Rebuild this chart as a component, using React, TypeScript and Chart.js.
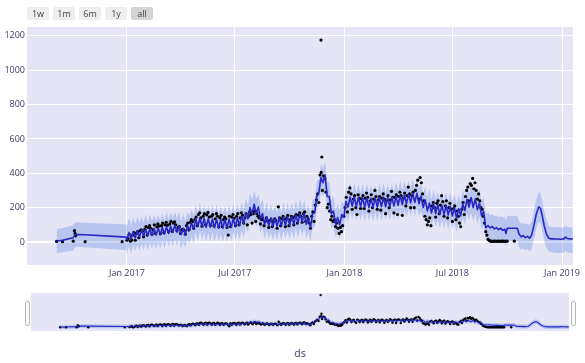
import React, { useEffect, useRef } from "react";
import { Chart, registerables } from "chart.js";

Chart.register(...registerables);

// ---------- axis / category data ----------
const BASE_DATE = "2017-01-01";
const X_TICK_DATES = ["2017-01-01", "2017-07-01", "2018-01-01", "2018-07-01", "2019-01-01"];
const X_TICK_LABELS = ["Jan 2017", "Jul 2017", "Jan 2018", "Jul 2018", "Jan 2019"];
const X_MIN_DAY = -167.6;
const X_MAX_DAY = 748.4;
const Y_TICKS = [0, 200, 400, 600, 800, 1000, 1200];
const Y_MIN = -134;
const Y_MAX = 1252;
const RANGE_BUTTONS = ["1w", "1m", "6m", "1y", "all"];
const ACTIVE_BUTTON = "all";
const X_TITLE = "ds";

// ---------- actual observations (days since 2017-01-01) ----------
const SPARSE_OBS_DAY = [-118, -108, -90, -88, -87, -86, -70, -8, 0, 325.6, 327, 650];
const SPARSE_OBS_Y = [3, 2, 5, 66, 50, 36, 2, 2, 10, 1176, 495, 5];

const OBS_START_DAY = 2;
const OBS_STEP_DAYS = 2;
const OBS_Y = [
  20, 45, 5, 12, 40, 55, 10, 50, 60, 25, 65, 70, 62, 30,
  75, 90, 40, 85, 95, 80, 45, 70, 100, 50, 88, 105, 92, 48,
  95, 110, 55, 100, 115, 98, 60, 105, 120, 62, 110, 118, 100, 65,
  85, 90, 50, 70, 75, 68, 45, 95, 110, 70, 115, 130, 118, 80,
  130, 145, 95, 160, 170, 140, 92, 150, 165, 100, 158, 172, 145, 98,
  150, 160, 95, 135, 165, 150, 88, 140, 155, 90, 130, 145, 135, 85,
  40, 150, 90, 145, 160, 138, 95, 150, 165, 100, 140, 170, 155, 110,
  140, 165, 100, 150, 175, 160, 110, 165, 180, 120, 165, 150, 140, 105,
  130, 135, 95, 120, 140, 125, 85, 125, 130, 90, 118, 135, 125, 80,
  205, 140, 95, 135, 150, 130, 90, 140, 155, 95, 130, 150, 140, 100,
  150, 160, 110, 155, 170, 150, 115, 165, 175, 120, 150, 135, 110, 80,
  150, 175, 120, 215, 245, 280, 230, 390, 405, 300, 385, 370, 290, 200,
  220, 180, 130, 150, 120, 130, 90, 110, 80, 50, 85, 60, 95, 150,
  200, 260, 175, 290, 315, 280, 190, 250, 270, 200, 160, 275, 255, 195,
  250, 270, 195, 255, 285, 260, 180, 240, 275, 200, 250, 300, 265, 190,
  245, 265, 185, 255, 280, 250, 165, 240, 270, 200, 245, 295, 260, 170,
  260, 275, 160, 265, 290, 270, 155, 255, 285, 210, 270, 320, 280, 200,
  270, 290, 200, 300, 330, 360, 250, 375, 345, 280, 240, 150, 130, 100,
  120, 140, 95, 210, 230, 200, 145, 225, 240, 165, 215, 270, 235, 150,
  210, 240, 140, 200, 225, 190, 120, 195, 210, 130, 180, 150, 110, 90,
  190, 230, 160, 265, 300, 320, 240, 340, 330, 370, 310, 345, 300, 250,
  280, 240, 200, 190, 150, 110, 60, 40, 15, 8, 5, 5, 4, 5,
  5, 4, 5, 5, 4, 5, 5, 5, 4, 5, 5,
];

// ---------- forecast: early history (sparse dates) ----------
const FC_EARLY_DAY = [-118, -108, -90, -87, -85, -70, -8, -1];
const FC_EARLY_YHAT = [6, 10, 25, 42, 44, 42, 30, 28];
const FC_EARLY_UPPER = [76, 82, 98, 112, 115, 112, 104, 102];
const FC_EARLY_LOWER = [-64, -60, -50, -30, -28, -30, -45, -46];

// ---------- forecast: dense history, twice-weekly readings ----------
const FC_WEEKLY_START_DAY = 0;
const FC_WEEKLY_STEP_DAYS = 3.5;
const FC_WEEKLY_YHAT = [
  13, 55, 18, 60, 23, 66, 29, 72,
  34, 75, 36, 77, 38, 79, 40, 81,
  42, 84, 46, 88, 50, 92, 55, 97,
  58, 92, 42, 78, 42, 95, 68, 112,
  75, 133, 90, 141, 89, 137, 85, 135,
  85, 134, 83, 132, 81, 130, 80, 131,
  82, 133, 85, 137, 89, 141, 95, 151,
  108, 170, 135, 200, 163, 220, 167, 203,
  135, 165, 103, 147, 93, 141, 90, 140,
  91, 142, 93, 145, 97, 148, 99, 150,
  103, 157, 111, 165, 117, 163, 103, 140,
  83, 165, 170, 265, 285, 375, 345, 390,
  265, 265, 165, 180, 105, 143, 100, 160,
  143, 237, 203, 262, 209, 262, 207, 260,
  205, 258, 203, 256, 201, 255, 202, 257,
  204, 259, 206, 260, 205, 259, 206, 262,
  210, 266, 214, 270, 218, 274, 223, 280,
  228, 284, 231, 283, 223, 267, 201, 245,
  181, 227, 169, 221, 165, 217, 161, 214,
  159, 212, 157, 209, 151, 199, 139, 195,
  153, 222, 183, 249, 203, 259, 201, 251,
  188, 227, 153, 177, 83,
];
const FC_WEEKLY_UPPER = [
  93, 139, 96, 146, 105, 145, 114, 149,
  114, 159, 114, 163, 120, 158, 125, 158,
  122, 168, 124, 174, 132, 171, 140, 174,
  138, 176, 120, 164, 124, 174, 153, 189,
  155, 217, 168, 227, 171, 216, 170, 212,
  165, 218, 161, 218, 163, 209, 165, 208,
  162, 217, 163, 223, 171, 220, 180, 228,
  188, 254, 213, 286, 245, 299, 252, 280,
  215, 249, 181, 233, 175, 220, 175, 217,
  171, 226, 171, 231, 179, 227, 184, 227,
  183, 241, 189, 251, 199, 242, 188, 217,
  163, 249, 248, 351, 367, 454, 430, 467,
  345, 349, 243, 266, 187, 222, 185, 237,
  223, 321, 281, 348, 291, 341, 292, 337,
  285, 342, 281, 342, 283, 334, 287, 334,
  284, 343, 284, 346, 287, 338, 291, 339,
  290, 350, 292, 356, 300, 353, 308, 357,
  308, 368, 309, 369, 305, 346, 286, 322,
  261, 311, 247, 307, 247, 296, 246, 291,
  239, 296, 235, 295, 233, 278, 224, 272,
  233, 306, 261, 335, 285, 338, 286, 328,
  268, 311, 231, 263, 165,
];
const FC_WEEKLY_LOWER = [
  -69, -23, -67, -19, -53, -18, -51, -11,
  -48, -3, -49, -2, -38, -5, -40, -2,
  -40, 6, -39, 9, -26, 8, -25, 14,
  -24, 14, -43, -1, -34, 11, -12, 29,
  -7, 55, 5, 62, 13, 53, 5, 52,
  3, 56, -2, 53, 5, 46, 0, 48,
  0, 55, 0, 58, 13, 57, 15, 68,
  26, 92, 50, 121, 87, 136, 87, 120,
  53, 87, 18, 68, 17, 57, 10, 57,
  9, 64, 8, 66, 21, 64, 19, 67,
  21, 79, 26, 86, 41, 79, 23, 57,
  1, 87, 85, 186, 209, 291, 265, 307,
  183, 187, 80, 101, 29, 59, 20, 77,
  61, 159, 118, 183, 133, 178, 127, 177,
  123, 180, 118, 177, 125, 171, 122, 174,
  122, 181, 121, 181, 129, 175, 126, 179,
  128, 188, 129, 191, 142, 190, 143, 197,
  146, 206, 146, 204, 147, 183, 121, 162,
  99, 149, 84, 142, 89, 133, 81, 131,
  77, 134, 72, 130, 75, 115, 59, 112,
  71, 144, 98, 170, 127, 175, 121, 168,
  106, 149, 68, 98, 7,
];

// ---------- forecast: after the last dense history ----------
const FC_FUTURE_DAY = [606, 609.5, 613, 616.5, 620, 623.5, 627, 630.5, 634, 636, 638, 655, 658, 661.5, 665, 668.5, 672, 675.5, 679, 683, 687, 691, 694, 697, 700, 704, 708, 712, 720, 728, 733, 736, 739, 744, 748];
const FC_FUTURE_YHAT = [95, 82, 90, 76, 84, 72, 80, 68, 74, 50, 80, 80, 45, 30, 38, 25, 33, 22, 40, 100, 165, 205, 195, 150, 95, 45, 22, 18, 17, 16, 18, 28, 20, 17, 18];
const FC_FUTURE_UPPER = [170, 155, 162, 148, 156, 145, 152, 142, 147, 125, 152, 152, 120, 105, 112, 100, 108, 97, 118, 185, 250, 292, 283, 240, 180, 125, 95, 88, 86, 84, 86, 95, 88, 84, 85];
const FC_FUTURE_LOWER = [22, 8, 15, 2, 10, -3, 5, -8, -2, -25, 5, 5, -30, -45, -38, -50, -42, -55, -40, 15, 80, 118, 108, 65, 10, -35, -55, -60, -62, -64, -62, -52, -60, -64, -65];

// ---------- styles ----------
const PLOT_BG = "#e5e5f6";
const LINE_COLOR = "#2626c4";
const BAND_COLOR = "rgba(90,130,225,0.32)";
const TEXT_COLOR = "#3b3b66";
const FONT_FAMILY = '"Open Sans", sans-serif';

const dayOf = (s: string) =>
  (Date.parse(s + "T00:00:00Z") - Date.parse(BASE_DATE + "T00:00:00Z")) / 86400000;

type P = { x: number; y: number };

function buildSeries() {
  const obs: P[] = [];
  SPARSE_OBS_DAY.forEach((d, i) => obs.push({ x: d, y: SPARSE_OBS_Y[i] }));
  OBS_Y.forEach((v, i) => obs.push({ x: OBS_START_DAY + i * OBS_STEP_DAYS, y: v }));

  const yhat: P[] = [];
  const upper: P[] = [];
  const lower: P[] = [];
  FC_EARLY_DAY.forEach((d, i) => {
    yhat.push({ x: d, y: FC_EARLY_YHAT[i] });
    upper.push({ x: d, y: FC_EARLY_UPPER[i] });
    lower.push({ x: d, y: FC_EARLY_LOWER[i] });
  });
  FC_WEEKLY_YHAT.forEach((v, i) => {
    const d = FC_WEEKLY_START_DAY + i * FC_WEEKLY_STEP_DAYS;
    yhat.push({ x: d, y: v });
    upper.push({ x: d, y: FC_WEEKLY_UPPER[i] });
    lower.push({ x: d, y: FC_WEEKLY_LOWER[i] });
  });
  FC_FUTURE_DAY.forEach((d, i) => {
    yhat.push({ x: d, y: FC_FUTURE_YHAT[i] });
    upper.push({ x: d, y: FC_FUTURE_UPPER[i] });
    lower.push({ x: d, y: FC_FUTURE_LOWER[i] });
  });
  return { obs, yhat, upper, lower };
}

const bgPlugin = {
  id: "plotBg",
  beforeDraw(chart: any) {
    const { ctx, chartArea } = chart;
    if (!chartArea) return;
    ctx.save();
    ctx.fillStyle = PLOT_BG;
    ctx.fillRect(chartArea.left, chartArea.top, chartArea.right - chartArea.left, chartArea.bottom - chartArea.top);
    ctx.restore();
  },
};

function makeChart(canvas: HTMLCanvasElement, mini: boolean) {
  const s = buildSeries();
  const tickDays = X_TICK_DATES.map(dayOf);
  return new Chart(canvas, {
    type: "line",
    data: {
      datasets: [
        {
          label: "Predicted",
          data: s.yhat,
          borderColor: LINE_COLOR,
          borderWidth: mini ? 1.1 : 1.6,
          borderJoinStyle: "round",
          pointRadius: 0,
          fill: false,
          tension: 0,
          order: 0,
        },
        {
          label: "Actual",
          data: s.obs,
          showLine: false,
          pointRadius: mini ? 1.2 : 1.6,
          pointBackgroundColor: "#000",
          pointBorderWidth: 0,
          borderColor: "#000",
          order: 1,
        },
        {
          label: "Upper Bound",
          data: s.upper,
          borderWidth: 0,
          borderColor: "transparent",
          pointRadius: 0,
          fill: 3,
          backgroundColor: BAND_COLOR,
          tension: 0,
          order: 2,
        },
        {
          label: "Lower Bound",
          data: s.lower,
          borderWidth: 0,
          borderColor: "transparent",
          pointRadius: 0,
          fill: false,
          tension: 0,
          order: 3,
        },
      ],
    } as any,
    options: {
      animation: false,
      responsive: false,
      devicePixelRatio: 1,
      events: [],
      layout: { padding: mini ? 0 : { top: 27, right: 12, left: 0, bottom: 0 } },
      plugins: {
        legend: { display: false },
        tooltip: { enabled: false },
        filler: { drawTime: "beforeDatasetsDraw", propagate: false },
      },
      scales: {
        x: {
          type: "linear",
          min: X_MIN_DAY,
          max: X_MAX_DAY,
          display: !mini,
          border: { display: false },
          grid: { color: "#ffffff", lineWidth: 1, drawTicks: false },
          ticks: {
            autoSkip: false,
            maxRotation: 0,
            padding: 3,
            color: TEXT_COLOR,
            font: { family: FONT_FAMILY, size: 9 },
            callback: (v: any) => {
              const i = tickDays.indexOf(Number(v));
              return i >= 0 ? X_TICK_LABELS[i] : "";
            },
          },
          afterBuildTicks: (scale: any) => {
            scale.ticks = tickDays.map((d) => ({ value: d }));
          },
          afterFit: (scale: any) => {
            if (mini) return;
            scale.height = 20;
            scale.paddingLeft = 0;
            scale.paddingRight = 0;
          },
        },
        y: {
          type: "linear",
          min: Y_MIN,
          max: Y_MAX,
          display: !mini,
          border: { display: false },
          grid: {
            color: "#ffffff",
            drawTicks: false,
            lineWidth: (ctx: any) => (ctx.tick && ctx.tick.value === 0 ? 2 : 1),
          },
          ticks: {
            padding: 2,
            color: TEXT_COLOR,
            font: { family: FONT_FAMILY, size: 9 },
            callback: (v: any) => String(v),
          },
          afterBuildTicks: (scale: any) => {
            scale.ticks = Y_TICKS.map((v) => ({ value: v }));
          },
          afterFit: (scale: any) => {
            if (mini) return;
            scale.width = 27;
            scale.paddingTop = 0;
            scale.paddingBottom = 0;
          },
        },
      },
    } as any,
    plugins: [bgPlugin],
  });
}

export default function App() {
  const mainRef = useRef<HTMLCanvasElement | null>(null);
  const miniRef = useRef<HTMLCanvasElement | null>(null);

  useEffect(() => {
    const c1 = makeChart(mainRef.current!, false);
    const c2 = makeChart(miniRef.current!, true);
    return () => {
      c1.destroy();
      c2.destroy();
    };
  }, []);

  const handleStyle: React.CSSProperties = {
    position: "absolute",
    top: 301,
    width: 3,
    height: 23,
    background: "#fafafa",
    border: "1px solid #b8b8b8",
    borderRadius: 2,
  };

  return (
    <div
      style={{
        position: "fixed",
        left: 0,
        top: 0,
        width: 585,
        height: 363,
        background: "#fff",
        fontFamily: FONT_FAMILY,
        overflow: "hidden",
      }}
    >
      <canvas ref={mainRef} width={585} height={285} style={{ position: "absolute", left: 0, top: 0 }} />
      <canvas ref={miniRef} width={546} height={46} style={{ position: "absolute", left: 27, top: 289 }} />
      {RANGE_BUTTONS.map((b, i) => (
        <div
          key={b}
          style={{
            position: "absolute",
            left: 27 + i * 26,
            top: 7,
            width: 22,
            height: 13,
            lineHeight: "13px",
            fontSize: 9,
            textAlign: "center",
            color: "#444",
            background: b === ACTIVE_BUTTON ? "#d4d4d4" : "#eeeeee",
            borderRadius: 2,
          }}
        >
          {b}
        </div>
      ))}
      <div style={{ ...handleStyle, left: 25 }} />
      <div style={{ ...handleStyle, left: 571 }} />
      <div
        style={{
          position: "absolute",
          left: 27,
          width: 546,
          top: 346,
          textAlign: "center",
          fontSize: 10.5,
          lineHeight: "14px",
          color: TEXT_COLOR,
        }}
      >
        {X_TITLE}
      </div>
    </div>
  );
}
